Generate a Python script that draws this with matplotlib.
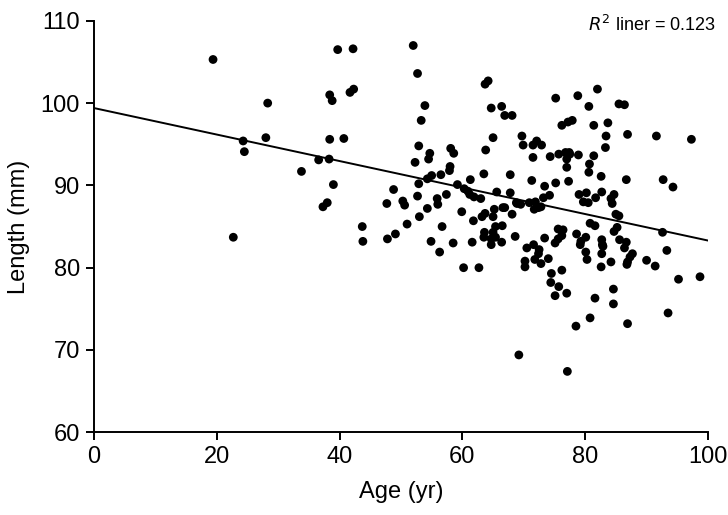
import numpy as np
import matplotlib
matplotlib.use("Agg")
import matplotlib.pyplot as plt

plt.rcParams['font.family'] = ['Liberation Sans', 'DejaVu Sans']

# Age (yr) and length (mm)
age = [
    19.4, 22.7, 24.3, 24.5, 28.3, 28.0, 33.8, 36.6, 38.3, 37.3, 38.0, 38.4, 38.8, 39.7, 42.2,
    38.4, 40.7, 39.0, 41.7, 42.3, 43.7, 43.8,
    47.7, 48.8, 50.3, 50.6, 47.8, 49.1, 51.0, 52.0, 52.7, 53.9, 53.3, 52.9, 54.7, 54.5, 52.3,
    52.9, 54.3, 55.0, 56.5, 52.7, 53.0, 54.3, 55.9, 56.0, 57.4, 56.7, 54.9, 56.3, 58.1, 58.6,
    58.0, 57.9, 59.2, 58.5, 59.9,
    60.3, 60.9, 61.2, 61.9, 63.0, 61.3, 61.8, 61.6, 60.2, 62.7, 63.2, 63.7, 63.6, 63.5, 63.8,
    63.5, 63.7, 64.2, 64.7, 65.0, 65.0, 65.2, 65.0, 64.7, 64.7, 65.4, 65.4, 65.6, 66.4, 66.9,
    68.1, 66.6, 66.9, 66.5, 66.4, 67.8, 67.8, 68.9, 68.1, 68.6, 69.7, 69.2,
    69.9, 71.5, 72.1, 72.9, 71.5, 74.3, 75.7, 76.8, 77.4, 77.0, 77.5, 78.9, 75.2, 78.8, 76.2,
    77.2, 77.9, 77.0, 71.3, 73.4, 75.2, 77.3, 73.2, 74.2, 68.8, 69.5, 70.9, 71.9, 71.7, 72.4,
    72.8, 73.4, 75.6, 76.4, 76.2, 75.6, 75.1, 78.6, 70.5, 71.6, 72.5, 72.4, 70.2, 70.2, 71.8,
    72.8, 74.0, 74.5, 74.4, 75.7, 75.1, 76.2, 77.0, 78.5, 77.1, 79.0, 80.2, 79.7, 80.5, 80.1,
    79.3, 79.2,
    80.6, 82.0, 81.4, 83.7, 83.4, 81.4, 83.3, 80.7, 80.6, 82.6, 81.7, 82.7, 84.2, 84.7, 84.4,
    85.5, 86.4, 86.9, 86.7, 85.0, 85.5, 80.8, 81.6, 85.2, 84.7, 82.7, 82.8, 82.9, 85.6, 86.7,
    86.4, 80.1, 80.3, 82.7, 82.6, 84.2, 87.7, 87.3, 86.9, 86.8, 90.0, 91.4, 93.3, 95.2, 98.7,
    84.6, 84.6, 81.6, 80.8, 86.9, 93.5, 91.6, 97.3, 92.7, 94.3, 92.6,
]
length = [
    105.3, 83.7, 95.4, 94.1, 100.0, 95.8, 91.7, 93.1, 93.2, 87.4, 87.9, 101.0, 100.3, 106.5, 106.6,
    95.6, 95.7, 90.1, 101.3, 101.7, 85.0, 83.2,
    87.8, 89.5, 88.1, 87.6, 83.5, 84.1, 85.3, 107.0, 103.6, 99.7, 97.9, 94.8, 93.9, 93.2, 92.8,
    90.2, 90.8, 91.2, 91.3, 88.7, 86.2, 87.2, 88.4, 87.7, 88.9, 85.0, 83.2, 81.9, 94.5, 93.9,
    92.3, 91.8, 90.1, 83.0, 86.8,
    89.6, 89.3, 88.9, 88.6, 88.4, 90.7, 85.7, 83.1, 80.0, 80.0, 86.2, 86.6, 84.3, 83.7, 94.3,
    91.4, 102.3, 102.7, 99.4, 95.8, 86.2, 87.1, 84.3, 83.5, 82.8, 83.7, 85.0, 89.2, 99.6, 98.5,
    98.5, 87.3, 87.3, 85.1, 83.1, 91.3, 89.1, 87.8, 86.5, 83.8, 96.0, 69.4,
    94.9, 94.9, 95.4, 94.9, 93.4, 93.5, 93.8, 94.0, 94.0, 93.2, 93.8, 93.7, 100.6, 100.9, 97.3,
    97.7, 97.9, 92.2, 90.6, 89.9, 90.3, 90.5, 88.5, 88.8, 87.9, 87.7, 87.9, 88.0, 87.1, 87.3,
    87.4, 83.6, 84.7, 84.6, 83.9, 83.5, 83.0, 84.1, 82.4, 82.8, 82.2, 81.7, 80.8, 80.1, 81.0,
    80.5, 81.1, 79.3, 78.2, 77.7, 76.6, 79.7, 76.9, 72.9, 67.4, 88.9, 89.1, 88.0, 87.9, 83.7,
    83.2, 82.8,
    99.6, 101.7, 97.3, 97.6, 96.0, 93.6, 94.6, 92.6, 91.6, 91.1, 88.5, 89.2, 88.4, 88.9, 87.8,
    99.9, 99.8, 96.2, 90.7, 86.5, 86.3, 85.4, 85.1, 84.9, 84.4, 83.4, 82.8, 82.6, 83.4, 83.1,
    82.4, 81.9, 81.0, 81.7, 80.1, 80.7, 81.7, 81.3, 80.7, 80.4, 80.9, 80.2, 82.1, 78.6, 78.9,
    77.4, 75.6, 76.3, 73.9, 73.2, 74.5, 96.0, 95.6, 90.7, 89.8, 84.3,
]

# Fit line as drawn in the picture
fit_intercept = 99.4
fit_slope = -0.161
r2_text = "0.123"

fig = plt.figure(figsize=(7.28, 5.15), dpi=100)
ax = fig.add_axes([0.129, 0.1606, 0.8435, 0.799])

ax.scatter(age, length, s=40, c='black', edgecolors='none', zorder=3)

xs = np.array([0, 100])
ax.plot(xs, fit_intercept + fit_slope * xs, color='black', lw=1.4, zorder=2)

ax.set_xlim(0, 100)
ax.set_ylim(60, 110)
ax.set_xticks([0, 20, 40, 60, 80, 100])
ax.set_yticks([60, 70, 80, 90, 100, 110])
ax.spines['top'].set_visible(False)
ax.spines['right'].set_visible(False)
ax.spines['left'].set_linewidth(1.4)
ax.spines['bottom'].set_linewidth(1.4)
ax.tick_params(direction='out', length=6, width=1.4, labelsize=17, pad=4)

ax.set_xlabel("Age (yr)", fontsize=17, labelpad=9)
ax.set_ylabel("Length (mm)", fontsize=17, labelpad=8)

ax.text(1.013, 1.015, r"$R^2$ liner = " + r2_text, transform=ax.transAxes,
        ha='right', va='top', fontsize=13)

fig.savefig("out.png", dpi=100)
